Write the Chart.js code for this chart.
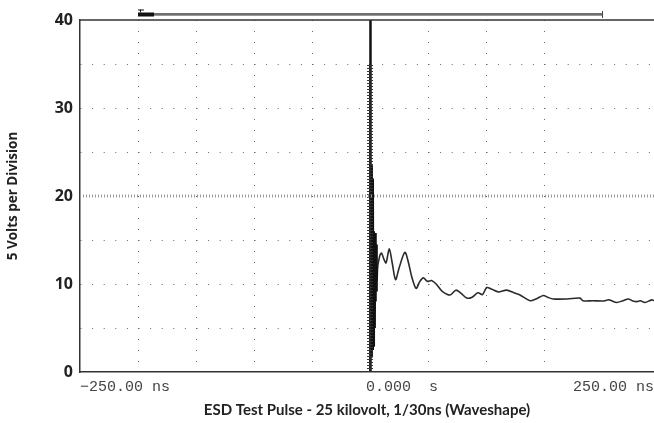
<!DOCTYPE html>
<html>
<head>
<meta charset="utf-8">
<script src="https://cdn.jsdelivr.net/npm/chart.js@4.4.0/dist/chart.umd.min.js"></script>
<style>
  html, body { margin: 0; padding: 0; background: #fff; }
</style>
</head>
<body>
<canvas id="esdChart" width="654" height="423"></canvas>
<script>
// captured pulse: time in ns, level in volts
// first few ns ring too fast for the screen, so they show up as a solid bar
const spikeTimes = [0, 0.1, 0.4, 0.7, 1.0, 1.3, 1.6, 1.9, 2.2, 2.5, 2.8, 3.1, 3.4, 3.7, 4.0, 4.3, 4.6, 4.9, 5.2, 5.5, 5.8, 6.1];
const spikeVolts = [0, 40, 1.6, 24, 1.8, 23.5, 2, 22, 2.5, 21, 3, 16, 4, 15.5, 5, 15.8, 8, 15, 9.3, 14.5, 10, 12];

const tailTimes = [6.3, 8.6, 10, 12, 13.8, 16.6, 19, 22, 25, 30, 33, 36, 39.7, 43, 46, 49.4, 53, 57, 62,
    69, 74, 78, 83.4, 88, 93, 97, 100.6, 105, 110.6, 117.8, 124, 129.3, 137.9, 143, 149.4, 153, 158,
    170, 181, 183.6, 192, 201, 206, 212.7, 218, 222.7, 226, 230, 233, 237, 242.8, 244.8];
const tailVolts = [11.8, 13.3, 13.5, 12.8, 12.4, 14.0, 12.5, 10.5, 11.8, 13.6, 12.5, 10.8, 9.5, 10.3, 10.7, 10.3, 10.4, 10, 9.2,
    8.75, 9.3, 9.0, 8.4, 8.5, 9.0, 8.8, 9.6, 9.4, 9.1, 9.3, 9.0, 8.75, 8.1, 8.3, 8.7, 8.5, 8.3,
    8.3, 8.4, 8.1, 8.1, 8.07, 8.2, 7.9, 8.1, 8.3, 8.1, 8.0, 8.1, 7.9, 8.2, 8.1];

// axes
const xMin = -250;
const xMax = 244.8;
const xStep = 50;
const yMin = 0;
const yMax = 40;
const yStep = 5;
const xTickValues = [-250, 0, 250];
const xTickLabels = ['\u2212250.00 ns', '0.000  s', '250.00 ns'];

// scope markers
const triggerTime = 0;
const triggerLevel = 20;
const ladderTop = 35;
const recordWindow = [-200, 200];

function toPoints(xs, ys) {
    return xs.map((x, i) => ({ x: x, y: ys[i] }));
}

// extra drawing: top border, record bar, x labels
const scopeDecor = {
    id: 'scopeDecor',
    afterDraw(chart) {
        const ctx = chart.ctx;
        const area = chart.chartArea;
        const xs = chart.scales.x;

        ctx.save();
        // top frame line
        ctx.strokeStyle = '#333';
        ctx.lineWidth = 1.5;
        ctx.beginPath();
        ctx.moveTo(area.left, area.top);
        ctx.lineTo(area.right, area.top);
        ctx.stroke();

        // record window bar above the plot
        const x1 = xs.getPixelForValue(recordWindow[0]);
        const x2 = xs.getPixelForValue(recordWindow[1]);
        const by = area.top - 5.5;
        ctx.strokeStyle = '#999';
        ctx.lineWidth = 3;
        ctx.beginPath();
        ctx.moveTo(x1, by);
        ctx.lineTo(x2, by);
        ctx.stroke();
        ctx.strokeStyle = '#444';
        ctx.lineWidth = 1;
        ctx.beginPath();
        ctx.moveTo(x1, by - 0.5);
        ctx.lineTo(x2, by - 0.5);
        ctx.moveTo(x2 + 0.5, by - 3.5);
        ctx.lineTo(x2 + 0.5, by + 3.5);
        ctx.stroke();
        ctx.fillStyle = '#111';
        ctx.fillRect(x1, by - 2, 16, 4);
        ctx.fillRect(x1 + 2, by - 5, 1, 3);
        ctx.fillRect(x1, by - 5, 6, 1);

        // x tick labels (scope style)
        ctx.font = '15px "Liberation Mono", "DejaVu Sans Mono", monospace';
        ctx.fillStyle = '#444';
        ctx.textBaseline = 'middle';
        ctx.textAlign = 'left';
        xTickValues.forEach((v, i) => {
            let px = xs.getPixelForValue(v);
            const w = ctx.measureText(xTickLabels[i]).width;
            if (v === 0) px -= 4;
            if (px + w > chart.width) px = chart.width - w;
            ctx.fillText(xTickLabels[i], px, area.bottom + 15);
        });
        ctx.restore();
    }
};

const ctxEsd = document.getElementById('esdChart').getContext('2d');
const esdChart = new Chart(ctxEsd, {
    type: 'line',
    data: {
        datasets: [
            {
                // trigger level marker
                data: [{ x: xMin, y: triggerLevel }, { x: xMax, y: triggerLevel }],
                borderColor: '#999',
                borderWidth: 3,
                borderDash: [1, 2],
                pointRadius: 0
            },
            {
                // trigger position ladder
                data: [{ x: triggerTime, y: yMin }, { x: triggerTime, y: ladderTop }],
                borderColor: '#333',
                borderWidth: 6,
                borderDash: [1, 2],
                pointRadius: 0
            },
            {
                data: [{ x: triggerTime, y: yMin }, { x: triggerTime, y: ladderTop }],
                borderColor: '#222',
                borderWidth: 2,
                pointRadius: 0
            },
            {
                // fast ringing right after the discharge
                data: toPoints(spikeTimes, spikeVolts),
                borderColor: '#111',
                borderWidth: 2.5,
                pointRadius: 0,
                tension: 0
            },
            {
                // ESD pulse trace
                data: toPoints(tailTimes, tailVolts),
                borderColor: '#2b2b2b',
                borderWidth: 1.6,
                pointRadius: 0,
                tension: 0.3
            }
        ]
    },
    options: {
        responsive: false,
        devicePixelRatio: 1,
        animation: false,
        layout: { padding: { top: 20 } },
        plugins: {
            legend: { display: false },
            tooltip: { enabled: false }
        },
        scales: {
            x: {
                type: 'linear',
                min: xMin,
                max: xMax,
                ticks: { display: false, stepSize: xStep },
                grid: {
                    drawTicks: false,
                    lineWidth: 1,
                    color: (c) => {
                        const v = c.tick ? c.tick.value : null;
                        if (v === null || v === xMin || v === triggerTime || v % xStep !== 0) return 'rgba(0,0,0,0)';
                        return '#666';
                    }
                },
                border: { display: true, color: '#333', width: 1.5, dash: [1, 10] },
                title: {
                    display: true,
                    text: 'ESD Test Pulse - 25 kilovolt, 1/30ns (Waveshape)',
                    font: { family: 'Lato', weight: 'bold', size: 15 },
                    color: '#222',
                    padding: { top: 0, bottom: 4 }
                },
                afterFit: (scale) => { scale.height = 51; }
            },
            y: {
                min: yMin,
                max: yMax,
                ticks: {
                    stepSize: yStep,
                    padding: 7,
                    color: '#222',
                    font: { family: 'Open Sans', weight: 'bold', size: 16 },
                    callback: (v) => (v % 10 === 0 ? String(v) : '')
                },
                grid: {
                    drawTicks: false,
                    lineWidth: 1,
                    color: (c) => {
                        const v = c.tick ? c.tick.value : null;
                        if (v === null || v === yMin || v === yMax || v === triggerLevel) return 'rgba(0,0,0,0)';
                        return '#666';
                    }
                },
                border: { display: true, color: '#333', width: 1.5, dash: [1, 10.6] },
                title: {
                    display: true,
                    text: '5 Volts per Division',
                    font: { family: 'Open Sans', weight: 'bold', size: 13.5 },
                    color: '#222',
                    padding: { top: 5, bottom: 0 }
                },
                afterFit: (scale) => { scale.width = 80; }
            }
        }
    },
    plugins: [scopeDecor]
});
</script>
</body>
</html>
